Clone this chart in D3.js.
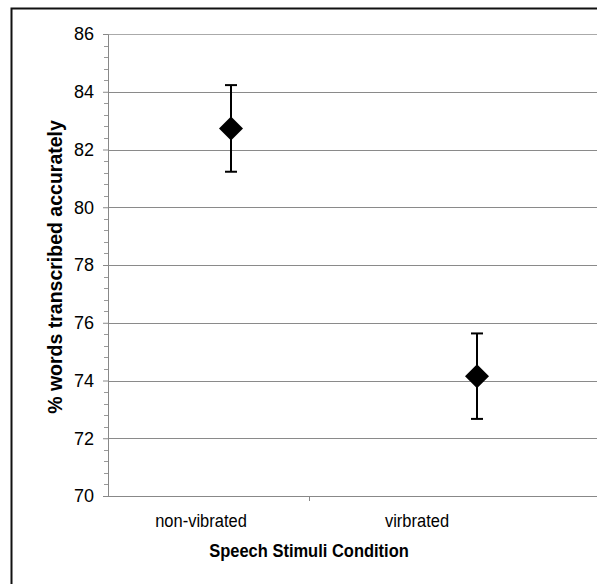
<!DOCTYPE html>
<html>
<head>
<meta charset="utf-8">
<script src="https://cdn.jsdelivr.net/npm/d3@7"></script>
<style>
  body { margin: 0; background: #fff; }
  text { font-family: "Liberation Sans", Arial, sans-serif; fill: #000; }
</style>
</head>
<body>
<div id="chart-area"></div>
<script>
// data
const categories = ["non-vibrated", "virbrated"]
const means = [82.73, 74.15]
const errors = [1.5, 1.48]
const yTicks = [70, 72, 74, 76, 78, 80, 82, 84, 86]

const W = 597, H = 584
const PLOT = { LEFT: 108, RIGHT: 620, TOP: 34, BOTTOM: 496 }

const svg = d3.select("#chart-area")
  .append("svg")
    .attr("width", W)
    .attr("height", H)

// outer frame (cropped at right and bottom)
svg.append("path")
  .attr("d", `M11.5,${H + 5} V8.5 H${W + 5}`)
  .attr("fill", "none")
  .attr("stroke", "#111")
  .attr("stroke-width", 2)

const y = d3.scaleLinear()
  .domain([70, 86])
  .range([PLOT.BOTTOM, PLOT.TOP])

// category labels sit in bands, markers are drawn a bit right of them
const xLabel = d3.scaleBand()
  .domain(categories)
  .range([93, 525])

const xPoint = d3.scalePoint()
  .domain(categories)
  .range([231, 477])

// gridlines
svg.append("g")
  .selectAll("line")
  .data(yTicks.filter(d => d > 70))
  .enter().append("line")
    .attr("x1", PLOT.LEFT)
    .attr("x2", PLOT.RIGHT)
    .attr("y1", d => Math.round(y(d)) + 0.5)
    .attr("y2", d => Math.round(y(d)) + 0.5)
    .attr("stroke", d => d === 86 ? "#aaa" : "#8a8a8a")
    .attr("stroke-width", 1.2)

// y axis
const yAxis = svg.append("g")
  .attr("transform", `translate(${PLOT.LEFT}, 0)`)
  .call(
    d3.axisLeft(y)
      .tickValues(yTicks)
      .tickSize(5)
      .tickPadding(9)
      .tickFormat(d3.format("d"))
  )
yAxis.select(".domain").attr("stroke", "#888")
yAxis.selectAll(".tick line").attr("stroke", "#888")
yAxis.selectAll(".tick text")
  .attr("font-size", "18px")
  .attr("font-family", "Liberation Sans, Arial, sans-serif")
  .attr("fill", "#000")

// minor ticks
svg.append("g")
  .selectAll("line")
  .data(d3.range(70, 86.001, 0.4).filter(v => Math.abs(v / 2 - Math.round(v / 2)) > 0.01))
  .enter().append("line")
    .attr("x1", PLOT.LEFT - 4)
    .attr("x2", PLOT.LEFT)
    .attr("y1", d => Math.round(y(d)) + 0.5)
    .attr("y2", d => Math.round(y(d)) + 0.5)
    .attr("stroke", "#999")

// x axis line and category tick
svg.append("line")
  .attr("x1", PLOT.LEFT)
  .attr("x2", PLOT.RIGHT)
  .attr("y1", PLOT.BOTTOM + 0.5)
  .attr("y2", PLOT.BOTTOM + 0.5)
  .attr("stroke", "#888")
  .attr("stroke-width", 1.2)

svg.append("line")
  .attr("x1", xLabel(categories[1]) + 0.5)
  .attr("x2", xLabel(categories[1]) + 0.5)
  .attr("y1", PLOT.BOTTOM)
  .attr("y2", PLOT.BOTTOM + 5)
  .attr("stroke", "#888")

// the source text is slightly taller than wide, so stretch it a bit
svg.append("g")
  .selectAll("text")
  .data(categories)
  .enter().append("text")
    .attr("transform", d => `translate(${xLabel(d) + xLabel.bandwidth() / 2}, 527) scale(1, 1.12)`)
    .attr("text-anchor", "middle")
    .attr("font-size", "16.5px")
    .text(d => d)

// axis titles
svg.append("text")
  .attr("transform", "translate(309, 557) scale(1, 1.12)")
  .attr("text-anchor", "middle")
  .attr("font-size", "16.5px")
  .attr("font-weight", "bold")
  .text("Speech Stimuli Condition")

svg.append("text")
  .attr("transform", "rotate(-90)")
  .attr("x", -267)
  .attr("y", 62)
  .attr("text-anchor", "middle")
  .attr("font-size", "19.5px")
  .attr("font-weight", "bold")
  .text("% words transcribed accurately")

// error bars and diamonds
const pts = categories.map((c, i) => ({ c, m: means[i], e: errors[i] }))

const bars = svg.append("g")
  .attr("stroke", "#000")
  .attr("stroke-width", 2)

bars.selectAll(".stem")
  .data(pts)
  .enter().append("line")
    .attr("x1", d => xPoint(d.c))
    .attr("x2", d => xPoint(d.c))
    .attr("y1", d => y(d.m + d.e))
    .attr("y2", d => y(d.m - d.e))

bars.selectAll(".cap")
  .data(pts.flatMap(d => [d.m + d.e, d.m - d.e].map(v => ({ c: d.c, v }))))
  .enter().append("line")
    .attr("x1", d => xPoint(d.c) - 6)
    .attr("x2", d => xPoint(d.c) + 6)
    .attr("y1", d => y(d.v))
    .attr("y2", d => y(d.v))

svg.append("g")
  .selectAll("path")
  .data(pts)
  .enter().append("path")
    .attr("transform", d => `translate(${xPoint(d.c)}, ${y(d.m)})`)
    .attr("d", "M0,-12 L12,0 L0,12 L-12,0 Z")
    .attr("fill", "#000")
</script>
</body>
</html>
